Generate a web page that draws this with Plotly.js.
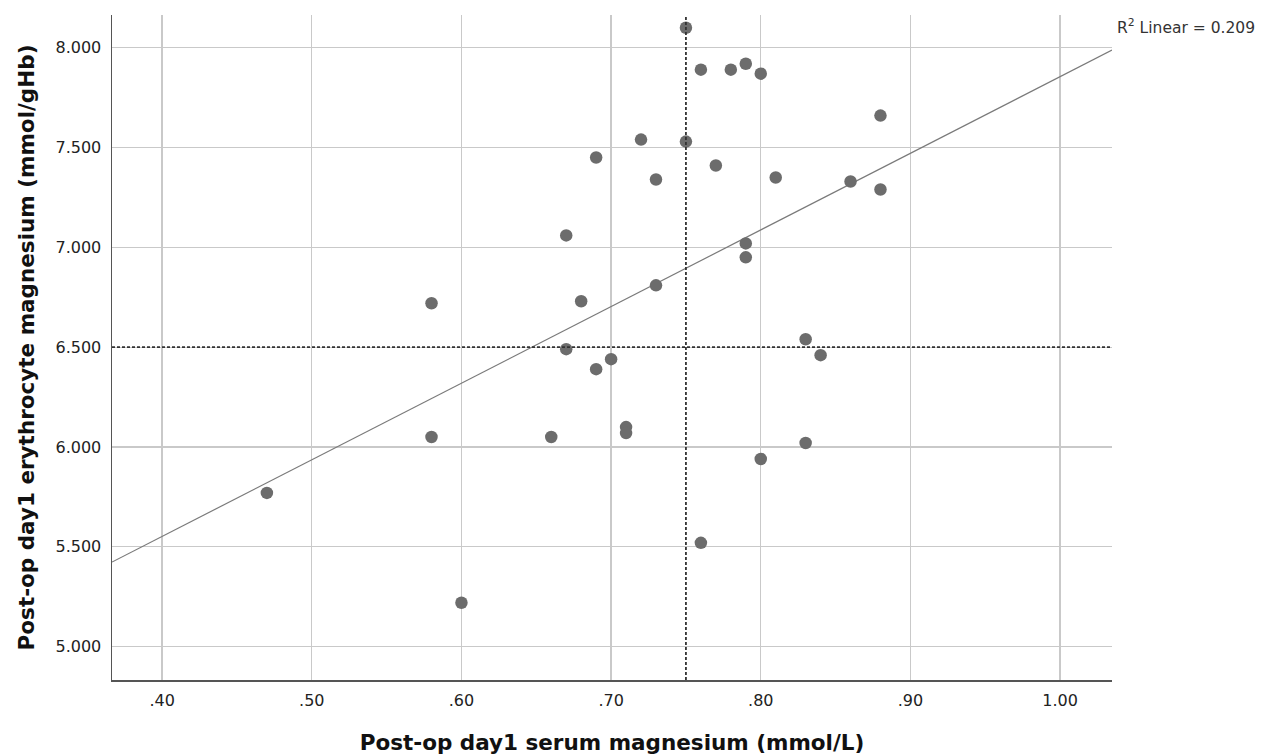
<!DOCTYPE html>
<html>
<head>
<meta charset="utf-8">
<script src="https://cdn.plot.ly/plotly-3.0.1.min.js"></script>
<style>html,body{margin:0;padding:0;background:#fff;}#chart{width:1262px;height:755px;}</style>
</head>
<body>
<div id="chart"></div>
<script>
// Data
const serumMg = [0.47, 0.58, 0.58, 0.60, 0.66, 0.67, 0.67, 0.68, 0.69, 0.69, 0.70, 0.71, 0.71, 0.72, 0.73, 0.73, 0.75, 0.75, 0.76, 0.76, 0.77, 0.78, 0.79, 0.79, 0.79, 0.80, 0.80, 0.81, 0.83, 0.83, 0.84, 0.86, 0.88, 0.88];
const erythMg = [5.77, 6.72, 6.05, 5.22, 6.05, 7.06, 6.49, 6.73, 7.45, 6.39, 6.44, 6.10, 6.07, 7.54, 7.34, 6.81, 8.10, 7.53, 7.89, 5.52, 7.41, 7.89, 7.92, 7.02, 6.95, 7.87, 5.94, 7.35, 6.54, 6.02, 6.46, 7.33, 7.66, 7.29];

const xTickVals = [0.4, 0.5, 0.6, 0.7, 0.8, 0.9, 1.0];
const xTickText = ['.40', '.50', '.60', '.70', '.80', '.90', '1.00'];
const yTickVals = [5.0, 5.5, 6.0, 6.5, 7.0, 7.5, 8.0];
const yTickText = ['5.000', '5.500', '6.000', '6.500', '7.000', '7.500', '8.000'];

const xRange = [0.3665, 1.0347];
const yRange = [4.833, 8.164];

// Fit line and reference lines
const fitIntercept = 4.017;
const fitSlope = 3.838;
const r2Text = 'R<sup>2</sup> Linear = 0.209';
const refX = 0.75;
const refY = 6.5;

const fitX = [xRange[0], xRange[1]];
const fitY = fitX.map(v => fitIntercept + fitSlope * v);

const font = 'DejaVu Sans, Liberation Sans, sans-serif';

const traces = [
  {
    x: fitX, y: fitY, mode: 'lines', type: 'scatter',
    line: {color: '#7a7a7a', width: 1.2}, hoverinfo: 'skip', showlegend: false
  },
  {
    x: serumMg, y: erythMg, mode: 'markers', type: 'scatter',
    marker: {color: '#6c6c6c', size: 12.5, line: {width: 0}},
    showlegend: false
  }
];

const layout = {
  width: 1262, height: 755,
  margin: {l: 112, r: 150, t: 15, b: 75},
  paper_bgcolor: '#ffffff', plot_bgcolor: '#ffffff',
  font: {family: font, color: '#222', size: 16},
  showlegend: false,
  xaxis: {
    range: xRange, tickvals: xTickVals, ticktext: xTickText,
    showgrid: true, gridcolor: '#c9c9c9', gridwidth: 1.3,
    zeroline: false, showline: true, linecolor: '#555', linewidth: 1.5,
    ticks: '', ticklabelstandoff: 5,
    tickfont: {family: font, size: 16, color: '#222'},
    title: {text: 'Post-op day1 serum magnesium (mmol/L)', font: {family: font, size: 21.5, color: '#111', weight: 'bold'}, standoff: 26}
  },
  yaxis: {
    range: yRange, tickvals: yTickVals, ticktext: yTickText,
    showgrid: true, gridcolor: '#c9c9c9', gridwidth: 1.3,
    zeroline: false, showline: true, linecolor: '#555', linewidth: 1.5,
    ticks: '', ticklabelstandoff: 6,
    tickfont: {family: font, size: 16, color: '#222'},
    title: {text: 'Post-op day1 erythrocyte magnesium (mmol/gHb)', font: {family: font, size: 21.5, color: '#111', weight: 'bold'}, standoff: 15}
  },
  shapes: [
    {type: 'line', xref: 'x', yref: 'paper', x0: refX, x1: refX, y0: 0, y1: 1,
     line: {color: '#333', width: 1.8, dash: '3px,2px'}},
    {type: 'line', xref: 'paper', yref: 'y', x0: 0, x1: 1, y0: refY, y1: refY,
     line: {color: '#333', width: 1.8, dash: '3px,2px'}}
  ],
  annotations: [
    {text: r2Text, xref: 'paper', yref: 'paper', x: 1.003, y: 0.982, xanchor: 'left', yanchor: 'middle',
     showarrow: false, font: {family: font, size: 15.5, color: '#333'}}
  ]
};

Plotly.newPlot('chart', traces, layout, {displayModeBar: false, staticPlot: true});
</script>
</body>
</html>
